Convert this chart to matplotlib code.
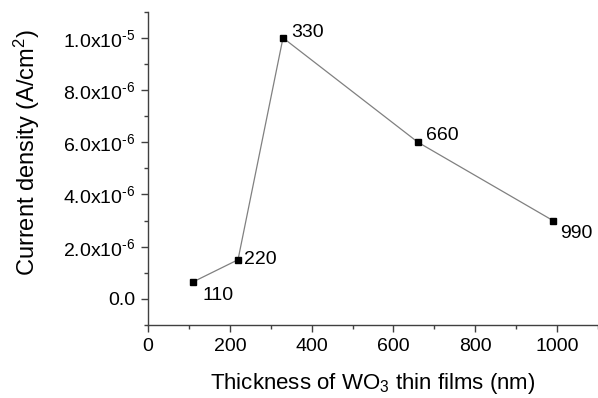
import math
import matplotlib
matplotlib.use("Agg")
import matplotlib.pyplot as plt
from matplotlib.ticker import FuncFormatter, MultipleLocator

plt.rcParams['font.family'] = ['Liberation Sans', 'DejaVu Sans']
plt.rcParams['mathtext.fontset'] = 'custom'
plt.rcParams['mathtext.rm'] = 'Liberation Sans'
plt.rcParams['mathtext.it'] = 'Liberation Sans'
plt.rcParams['mathtext.default'] = 'regular'
plt.rcParams['axes.unicode_minus'] = False

thickness = [110, 220, 330, 660, 990]
current = [6.5e-7, 1.5e-6, 1.0e-5, 6.0e-6, 3.0e-6]
labels = ["110", "220", "330", "660", "990"]
# label offsets in points (dx, dy)
offsets = [(7, -10), (4, 0), (6, 4), (6, 5), (5, -9)]

fig = plt.figure(figsize=(5.98, 3.98), dpi=100)
ax = fig.add_axes([0.2475, 0.1834, 0.7525, 0.787])

ax.plot(thickness, current, color='#808080', lw=0.9, marker='s', ms=4.5,
        mfc='black', mec='black', zorder=3)

for x, y, t, (dx, dy) in zip(thickness, current, labels, offsets):
    ax.annotate(t, (x, y), xytext=(dx, dy), textcoords='offset points',
                ha='left', va='center', fontsize=14)

ax.set_xlim(0, 1100)
ax.set_ylim(-1e-6, 1.1e-5)
ax.xaxis.set_major_locator(MultipleLocator(200))
ax.xaxis.set_minor_locator(MultipleLocator(100))
ax.yaxis.set_major_locator(MultipleLocator(2e-6))
ax.yaxis.set_minor_locator(MultipleLocator(1e-6))


def yfmt(v, pos):
    if abs(v) < 1e-12:
        return "0.0"
    e = int(math.floor(math.log10(abs(v)) + 1e-9))
    m = v / 10 ** e
    return "%.1fx10$^{\u2010%d}$" % (m, -e)


ax.yaxis.set_major_formatter(FuncFormatter(yfmt))

for s in ['top', 'right']:
    ax.spines[s].set_visible(False)
for s in ['left', 'bottom']:
    ax.spines[s].set_color('#404040')
    ax.spines[s].set_linewidth(1.0)

ax.tick_params(which='major', direction='out', length=5, width=1, color='#404040',
               labelsize=14, pad=4)
ax.tick_params(which='minor', direction='out', length=3, width=1, color='#404040')

ax.set_xlabel("Thickness of WO$_3$ thin films (nm)", fontsize=16, labelpad=12)
ax.set_ylabel("Current density (A/cm$^2$)", fontsize=17)
ax.yaxis.set_label_coords(-0.235, 0.55)

fig.savefig("out.png", dpi=100)
